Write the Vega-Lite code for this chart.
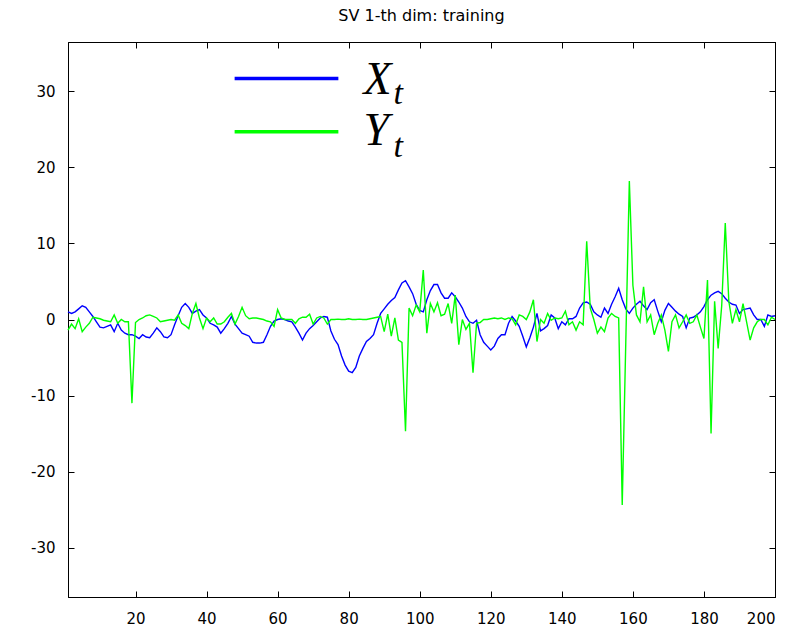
{
  "$schema": "https://vega.github.io/schema/vega-lite/v6.json",
  "width": 707,
  "height": 555,
  "autosize": "none",
  "padding": {"left": 68, "top": 42, "right": 36, "bottom": 33},
  "background": "white",
  "config": {
    "view": {"stroke": "#000000", "strokeWidth": 1},
    "axis": {
      "grid": false,
      "domainColor": "#000000",
      "tickColor": "#000000",
      "tickSize": -6,
      "labelColor": "#000000",
      "labelFont": "DejaVu Sans",
      "labelFontSize": 15,
      "title": null
    }
  },
  "title": {
    "text": "SV 1-th dim: training",
    "font": "DejaVu Sans",
    "fontSize": 16,
    "fontWeight": "normal",
    "color": "#000000",
    "offset": 18
  },
  "data": {
    "values": [
      {"t":1,"X":1.0,"Y":-1.4},{"t":2,"X":0.8,"Y":-0.6},{"t":3,"X":1.0,"Y":-1.2},{"t":4,"X":1.4,"Y":0.1},{"t":5,"X":1.8,"Y":-1.6},
      {"t":6,"X":1.6,"Y":-1.0},{"t":7,"X":1.0,"Y":-0.5},{"t":8,"X":0.4,"Y":0.3},{"t":9,"X":-0.3,"Y":0.2},{"t":10,"X":-1.0,"Y":0.1},
      {"t":11,"X":-1.1,"Y":-0.1},{"t":12,"X":-0.9,"Y":-0.2},{"t":13,"X":-0.7,"Y":-0.3},{"t":14,"X":-1.6,"Y":0.6},{"t":15,"X":-0.5,"Y":-0.5},
      {"t":16,"X":-1.4,"Y":0.0},{"t":17,"X":-1.8,"Y":-0.3},{"t":18,"X":-2.0,"Y":-0.3},{"t":19,"X":-2.0,"Y":-11.0},{"t":20,"X":-2.2,"Y":-0.4},
      {"t":21,"X":-2.5,"Y":0.0},{"t":22,"X":-2.0,"Y":0.2},{"t":23,"X":-2.3,"Y":0.5},{"t":24,"X":-2.4,"Y":0.6},{"t":25,"X":-1.8,"Y":0.4},
      {"t":26,"X":-1.1,"Y":0.2},{"t":27,"X":-1.6,"Y":-0.3},{"t":28,"X":-2.3,"Y":-0.2},{"t":29,"X":-2.4,"Y":-0.1},{"t":30,"X":-2.0,"Y":0.0},
      {"t":31,"X":-0.7,"Y":-0.1},{"t":32,"X":0.5,"Y":0.6},{"t":33,"X":1.6,"Y":-0.5},{"t":34,"X":2.1,"Y":-0.8},{"t":35,"X":1.6,"Y":-1.2},
      {"t":36,"X":0.8,"Y":0.8},{"t":37,"X":1.1,"Y":2.1},{"t":38,"X":1.3,"Y":0.2},{"t":39,"X":0.6,"Y":-1.2},{"t":40,"X":0.2,"Y":0.2},
      {"t":41,"X":-0.5,"Y":-0.3},{"t":42,"X":-0.7,"Y":0.2},{"t":43,"X":-1.0,"Y":-0.6},{"t":44,"X":-1.8,"Y":-0.6},{"t":45,"X":-1.2,"Y":-0.3},
      {"t":46,"X":-0.5,"Y":0.3},{"t":47,"X":0.4,"Y":0.8},{"t":48,"X":-0.6,"Y":-0.6},{"t":49,"X":-1.2,"Y":0.4},{"t":50,"X":-1.8,"Y":1.6},
      {"t":51,"X":-2.0,"Y":0.5},{"t":52,"X":-2.2,"Y":0.1},{"t":53,"X":-3.0,"Y":0.2},{"t":54,"X":-3.1,"Y":0.2},{"t":55,"X":-3.1,"Y":0.1},
      {"t":56,"X":-3.0,"Y":0.0},{"t":57,"X":-2.0,"Y":-0.2},{"t":58,"X":-0.9,"Y":-0.3},{"t":59,"X":-0.2,"Y":-0.9},{"t":60,"X":0.0,"Y":1.3},
      {"t":61,"X":0.1,"Y":0.2},{"t":62,"X":0.0,"Y":0.0},{"t":63,"X":-0.2,"Y":0.0},{"t":64,"X":-0.3,"Y":0.0},{"t":65,"X":-1.0,"Y":-0.5},
      {"t":66,"X":-1.8,"Y":0.1},{"t":67,"X":-2.7,"Y":0.3},{"t":68,"X":-1.8,"Y":0.3},{"t":69,"X":-1.2,"Y":0.7},{"t":70,"X":-0.8,"Y":-0.6},
      {"t":71,"X":-0.3,"Y":0.2},{"t":72,"X":0.2,"Y":0.4},{"t":73,"X":0.4,"Y":0.2},{"t":74,"X":0.3,"Y":-0.6},{"t":75,"X":-1.5,"Y":0.0},
      {"t":76,"X":-2.6,"Y":0.0},{"t":77,"X":-3.3,"Y":0.05},{"t":78,"X":-4.8,"Y":0.0},{"t":79,"X":-6.0,"Y":0.0},{"t":80,"X":-6.8,"Y":0.1},
      {"t":81,"X":-7.0,"Y":0.0},{"t":82,"X":-6.3,"Y":0.0},{"t":83,"X":-4.8,"Y":0.05},{"t":84,"X":-3.8,"Y":0.0},{"t":85,"X":-2.9,"Y":0.0},
      {"t":86,"X":-2.5,"Y":0.1},{"t":87,"X":-2.0,"Y":0.2},{"t":88,"X":-0.5,"Y":0.3},{"t":89,"X":0.8,"Y":0.4},{"t":90,"X":1.4,"Y":-1.6},
      {"t":91,"X":2.0,"Y":0.7},{"t":92,"X":2.5,"Y":-2.2},{"t":93,"X":2.9,"Y":0.2},{"t":94,"X":3.9,"Y":-2.7},{"t":95,"X":4.8,"Y":-3.0},
      {"t":96,"X":5.1,"Y":-14.7},{"t":97,"X":4.3,"Y":1.5},{"t":98,"X":3.4,"Y":0.5},{"t":99,"X":2.0,"Y":1.9},{"t":100,"X":1.2,"Y":1.0},
      {"t":101,"X":1.0,"Y":6.5},{"t":102,"X":2.6,"Y":-1.8},{"t":103,"X":3.8,"Y":2.1},{"t":104,"X":4.6,"Y":1.0},{"t":105,"X":4.6,"Y":2.2},
      {"t":106,"X":3.5,"Y":0.5},{"t":107,"X":2.8,"Y":0.7},{"t":108,"X":2.8,"Y":2.1},{"t":109,"X":3.5,"Y":-0.5},{"t":110,"X":3.0,"Y":3.2},
      {"t":111,"X":2.3,"Y":-3.3},{"t":112,"X":1.5,"Y":0.0},{"t":113,"X":0.4,"Y":-1.3},{"t":114,"X":-0.3,"Y":-0.5},{"t":115,"X":-0.5,"Y":-7.0},
      {"t":116,"X":-0.1,"Y":-0.5},{"t":117,"X":-2.0,"Y":-0.4},{"t":118,"X":-3.0,"Y":0.0},{"t":119,"X":-3.5,"Y":0.0},{"t":120,"X":-4.0,"Y":0.1},
      {"t":121,"X":-3.5,"Y":0.2},{"t":122,"X":-2.5,"Y":0.1},{"t":123,"X":-2.0,"Y":0.2},{"t":124,"X":-2.0,"Y":0.0},{"t":125,"X":-0.5,"Y":0.2},
      {"t":126,"X":0.4,"Y":0.1},{"t":127,"X":-0.2,"Y":-0.7},{"t":128,"X":-0.9,"Y":0.6},{"t":129,"X":-2.2,"Y":0.4},{"t":130,"X":-3.6,"Y":0.0},
      {"t":131,"X":-2.4,"Y":1.0},{"t":132,"X":-1.0,"Y":2.6},{"t":133,"X":0.8,"Y":-2.9},{"t":134,"X":-1.5,"Y":0.0},{"t":135,"X":-1.2,"Y":-0.5},
      {"t":136,"X":-0.8,"Y":0.8},{"t":137,"X":0.6,"Y":-0.1},{"t":138,"X":0.2,"Y":0.2},{"t":139,"X":-1.2,"Y":0.1},{"t":140,"X":-0.3,"Y":0.2},
      {"t":141,"X":-0.7,"Y":1.1},{"t":142,"X":0.1,"Y":-0.7},{"t":143,"X":0.1,"Y":-0.3},{"t":144,"X":0.4,"Y":-1.4},{"t":145,"X":1.5,"Y":-0.3},
      {"t":146,"X":2.2,"Y":-0.7},{"t":147,"X":2.3,"Y":10.3},{"t":148,"X":2.0,"Y":1.5},{"t":149,"X":1.0,"Y":0.0},{"t":150,"X":0.6,"Y":-1.8},
      {"t":151,"X":0.3,"Y":-1.0},{"t":152,"X":1.5,"Y":-1.6},{"t":153,"X":0.8,"Y":0.2},{"t":154,"X":2.0,"Y":0.8},{"t":155,"X":3.0,"Y":0.4},
      {"t":156,"X":4.1,"Y":0.2},{"t":157,"X":2.6,"Y":-24.4},{"t":158,"X":1.4,"Y":-3.0},{"t":159,"X":0.8,"Y":18.2},{"t":160,"X":1.5,"Y":4.5},
      {"t":161,"X":2.0,"Y":0.6},{"t":162,"X":2.4,"Y":-0.3},{"t":163,"X":1.8,"Y":4.3},{"t":164,"X":1.3,"Y":-0.3},{"t":165,"X":2.2,"Y":0.6},
      {"t":166,"X":2.6,"Y":-2.0},{"t":167,"X":1.1,"Y":-0.5},{"t":168,"X":-0.3,"Y":0.6},{"t":169,"X":1.2,"Y":-1.4},{"t":170,"X":2.1,"Y":-4.2},
      {"t":171,"X":1.6,"Y":-0.3},{"t":172,"X":1.1,"Y":0.6},{"t":173,"X":0.7,"Y":-1.1},{"t":174,"X":0.4,"Y":-0.3},{"t":175,"X":-1.1,"Y":0.6},
      {"t":176,"X":0.2,"Y":-0.5},{"t":177,"X":0.3,"Y":-0.3},{"t":178,"X":0.6,"Y":0.6},{"t":179,"X":1.0,"Y":-1.0},{"t":180,"X":1.7,"Y":-2.5},
      {"t":181,"X":2.6,"Y":5.2},{"t":182,"X":3.2,"Y":-15.0},{"t":183,"X":3.5,"Y":2.4},{"t":184,"X":3.7,"Y":-3.8},{"t":185,"X":3.4,"Y":1.8},
      {"t":186,"X":2.8,"Y":12.7},{"t":187,"X":2.3,"Y":2.4},{"t":188,"X":2.0,"Y":-0.5},{"t":189,"X":1.9,"Y":1.3},{"t":190,"X":0.8,"Y":-0.3},
      {"t":191,"X":1.3,"Y":2.1},{"t":192,"X":1.4,"Y":-0.3},{"t":193,"X":1.5,"Y":-2.7},{"t":194,"X":0.6,"Y":-1.1},{"t":195,"X":0.0,"Y":-0.3},
      {"t":196,"X":0.0,"Y":0.0},{"t":197,"X":-0.9,"Y":0.0},{"t":198,"X":0.6,"Y":-0.7},{"t":199,"X":0.4,"Y":0.3},{"t":200,"X":0.5,"Y":0.0}
    ]
  },
  "layer": [
    {
      "transform": [{"fold": ["X", "Y"], "as": ["series", "value"]}],
      "mark": {"type": "line", "strokeWidth": 1.4},
      "encoding": {
        "x": {
          "field": "t", "type": "quantitative",
          "scale": {"domain": [1, 200], "nice": false, "zero": false},
          "axis": {"orient": "bottom", "values": [20, 40, 60, 80, 100, 120, 140, 160, 180, 200], "labelExpr": "'' + datum.value", "labelPadding": 20}
        },
        "y": {
          "field": "value", "type": "quantitative",
          "scale": {"domain": [-36.5, 36.5], "nice": false, "zero": false},
          "axis": {"orient": "left", "values": [-30, -20, -10, 0, 10, 20, 30], "labelExpr": "'' + datum.value", "labelPadding": 19}
        },
        "color": {
          "field": "series", "type": "nominal",
          "scale": {"domain": ["X", "Y"], "range": ["#0000ff", "#00ff00"]},
          "legend": null
        }
      }
    },
    {
      "transform": [{"fold": ["X", "Y"], "as": ["series", "value"]}],
      "mark": {"type": "line", "opacity": 0},
      "encoding": {
        "x": {"field": "t", "type": "quantitative", "axis": {"orient": "top", "values": [20, 40, 60, 80, 100, 120, 140, 160, 180, 200], "labels": false}},
        "y": {"field": "value", "type": "quantitative", "axis": {"orient": "right", "values": [-30, -20, -10, 0, 10, 20, 30], "labels": false}},
        "detail": {"field": "series"}
      }
    },
    {
      "data": {"values": [{}]},
      "mark": {"type": "rule", "color": "#0000ff", "strokeWidth": 3.5},
      "encoding": {
        "x": {"datum": 47.9, "type": "quantitative", "axis": null},
        "x2": {"datum": 77.1},
        "y": {"datum": 31.7, "type": "quantitative", "axis": null}
      }
    },
    {
      "data": {"values": [{}]},
      "mark": {"type": "rule", "color": "#00ff00", "strokeWidth": 3.5},
      "encoding": {
        "x": {"datum": 47.9, "type": "quantitative", "axis": null},
        "x2": {"datum": 77.1},
        "y": {"datum": 24.7, "type": "quantitative", "axis": null}
      }
    },
    {
      "data": {"values": [{}]},
      "mark": {"type": "text", "text": "X", "font": "Liberation Serif", "fontStyle": "italic", "fontSize": 46, "align": "left", "baseline": "alphabetic", "color": "#000000"},
      "encoding": {
        "x": {"datum": 84.2, "type": "quantitative", "axis": null},
        "y": {"datum": 29.6, "type": "quantitative", "axis": null}
      }
    },
    {
      "data": {"values": [{}]},
      "mark": {"type": "text", "text": "t", "font": "Liberation Serif", "fontStyle": "italic", "fontSize": 34, "align": "left", "baseline": "alphabetic", "color": "#000000"},
      "encoding": {
        "x": {"datum": 92.6, "type": "quantitative", "axis": null},
        "y": {"datum": 28.3, "type": "quantitative", "axis": null}
      }
    },
    {
      "data": {"values": [{}]},
      "mark": {"type": "text", "text": "Y", "font": "Liberation Serif", "fontStyle": "italic", "fontSize": 46, "align": "left", "baseline": "alphabetic", "color": "#000000"},
      "encoding": {
        "x": {"datum": 84.2, "type": "quantitative", "axis": null},
        "y": {"datum": 23.0, "type": "quantitative", "axis": null}
      }
    },
    {
      "data": {"values": [{}]},
      "mark": {"type": "text", "text": "t", "font": "Liberation Serif", "fontStyle": "italic", "fontSize": 34, "align": "left", "baseline": "alphabetic", "color": "#000000"},
      "encoding": {
        "x": {"datum": 92.6, "type": "quantitative", "axis": null},
        "y": {"datum": 21.4, "type": "quantitative", "axis": null}
      }
    }
  ],
  "resolve": {"axis": {"x": "independent", "y": "independent"}}
}
